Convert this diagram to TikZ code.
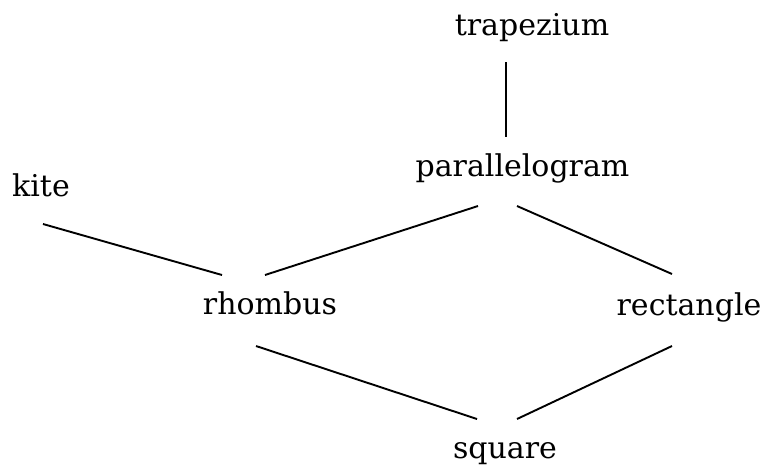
\documentclass[tikz,border=0pt]{standalone}
\usepackage{fontspec}
\setmainfont{DejaVu Serif}
\begin{document}
\begin{tikzpicture}[x=1pt,y=-1pt,
  lbl/.style={anchor=base,inner sep=0pt,font=\fontsize{30}{36}\selectfont},
  edge/.style={line width=1.9pt}]
\useasboundingbox (0,0) rectangle (770,467);
\node[lbl] (trap) at (532,35) {trapezium};
\node[lbl] (par) at (522.5,176) {parallelogram};
\node[lbl] (kite) at (41,196) {kite};
\node[lbl] (rhom) at (270,314) {rhombus};
\node[lbl] (rect) at (689,315) {rectangle};
\node[lbl] (sq) at (505,458) {square};
\draw[edge] ([shift={(-26,27)}]trap.base) -- ([shift={(-16.5,-39)}]par.base);
\draw[edge] ([shift={(2,28)}]kite.base) -- ([shift={(-48,-39)}]rhom.base);
\draw[edge] ([shift={(-44.5,30)}]par.base) -- ([shift={(-5,-39)}]rhom.base);
\draw[edge] ([shift={(-5.5,30)}]par.base) -- ([shift={(-17,-41)}]rect.base);
\draw[edge] ([shift={(-14,32)}]rhom.base) -- ([shift={(-28,-39)}]sq.base);
\draw[edge] ([shift={(-17,31)}]rect.base) -- ([shift={(12,-39)}]sq.base);
\end{tikzpicture}
\end{document}
